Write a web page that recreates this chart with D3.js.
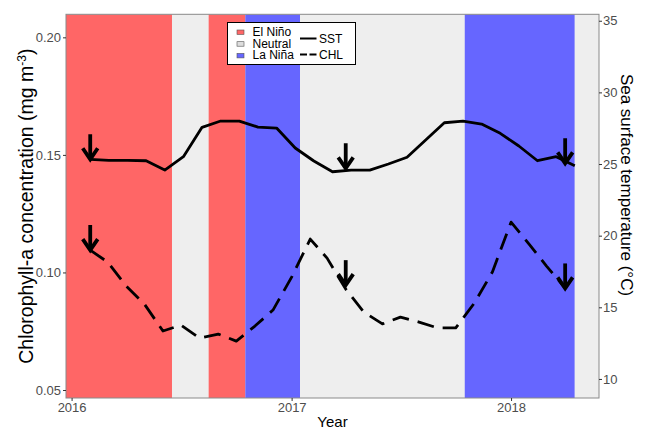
<!DOCTYPE html>
<html>
<head>
<meta charset="utf-8">
<script src="https://cdn.jsdelivr.net/npm/d3@7"></script>
<style>
  html, body { margin: 0; padding: 0; background: #fff; }
  svg { display: block; font-family: "Liberation Sans", Arial, Helvetica, sans-serif; }
</style>
</head>
<body>
<svg id="chart" width="645" height="430"></svg>
<script>
// ---------------- data ----------------
const chlDates = ["2016-02-01","2016-03-01","2016-04-01","2016-05-01","2016-06-01","2016-07-01","2016-08-01","2016-09-01","2016-10-01","2016-11-01","2016-12-01",
  "2017-01-01","2017-02-01","2017-03-01","2017-04-01","2017-05-01","2017-06-01","2017-07-01","2017-08-01","2017-09-01","2017-10-01","2017-11-01","2017-12-01",
  "2018-01-01","2018-02-01","2018-03-01","2018-04-01"];
const chlValues = [0.1095,0.1044,0.0942,0.0866,0.0751,0.0776,0.0721,0.0738,0.0708,0.0772,0.0840,
  0.0980,0.1142,0.1061,0.0929,0.0832,0.0781,0.0810,0.0789,0.0764,0.0764,0.0870,0.1002,
  0.1214,0.1117,0.1027,0.0934];

const sstDates = ["2016-02-01","2016-03-03","2016-04-03","2016-05-04","2016-06-04","2016-07-05","2016-08-05","2016-09-05","2016-10-06","2016-11-06","2016-12-07",
  "2017-01-07","2017-02-07","2017-03-10","2017-04-10","2017-05-11","2017-06-11","2017-07-12","2017-08-12","2017-09-12","2017-10-13","2017-11-13","2017-12-14",
  "2018-01-14","2018-02-14","2018-03-17","2018-04-17"];
const sstValues = [25.33,25.25,25.25,25.23,24.58,25.51,27.56,28.00,28.00,27.58,27.51,
  26.12,25.21,24.46,24.58,24.58,25.00,25.47,26.68,27.88,28.00,27.79,27.14,
  26.26,25.23,25.51,24.88];

// ENSO phase bands: boundaries between consecutive phases
const bandBreaks = ["2016-06-16","2016-08-16","2016-10-16","2017-01-15","2017-10-16","2018-04-17"];
const bandPhases = ["El Niño","Neutral","El Niño","La Niña","Neutral","La Niña","Neutral"];
const phaseNames = ["El Niño","Neutral","La Niña"];
const phaseColors = ["#FF6666","#EEEEEE","#6666FF"];
const phaseKeyColors = ["#FF6666","#DDDDDD","#6666FF"];

// arrows (tip positions)
const arrowDates = ["2016-02-01","2017-04-01","2018-04-01"];
const arrowCHL = [0.1095,0.0946,0.0932];
const arrowSST = [25.33,24.70,25.05];

const xTicks = ["2016-01-01","2017-01-01","2018-01-01"];
const xTickLabels = ["2016","2017","2018"];
const chlTicks = [0.05,0.10,0.15,0.20];
const sstTicks = [10,15,20,25,30,35];

// ---------------- layout ----------------
const parse = d3.utcParse("%Y-%m-%d");
const panel = {left: 66, right: 599, top: 14.3, bottom: 398};
const svg = d3.select("#chart");

const allDates = sstDates.concat(chlDates).map(parse);
const [d0, d1] = d3.extent(allDates);
const span = d1 - d0;
const x = d3.scaleUtc()
  .domain([new Date(+d0 - span * 0.05), new Date(+d1 + span * 0.05)])
  .range([panel.left, panel.right]);
const yL = d3.scaleLinear().domain([0.0466, 0.2098]).range([panel.bottom, panel.top]);
const yR = d3.scaleLinear().domain([8.67, 35.45]).range([panel.bottom, panel.top]);

// clip
svg.append("defs").append("clipPath").attr("id","pclip")
  .append("rect").attr("x",panel.left).attr("y",panel.top)
  .attr("width",panel.right-panel.left).attr("height",panel.bottom-panel.top);

// panel background
svg.append("rect").attr("x",panel.left).attr("y",panel.top)
  .attr("width",panel.right-panel.left).attr("height",panel.bottom-panel.top)
  .attr("fill","#EEEEEE");

// bands
const breaksX = [panel.left].concat(bandBreaks.map(d => x(parse(d)))).concat([panel.right]);
const gBands = svg.append("g").attr("clip-path","url(#pclip)");
bandPhases.forEach((p, i) => {
  gBands.append("rect")
    .attr("x", breaksX[i]).attr("y", panel.top)
    .attr("width", breaksX[i+1] - breaksX[i]).attr("height", panel.bottom - panel.top)
    .attr("fill", phaseColors[phaseNames.indexOf(p)]);
});

// lines
const gLines = svg.append("g").attr("clip-path","url(#pclip)");
const sstData = sstDates.map((d,i) => [parse(d), sstValues[i]]);
const chlData = chlDates.map((d,i) => [parse(d), chlValues[i]]);
gLines.append("path")
  .attr("d", d3.line().x(d => x(d[0])).y(d => yR(d[1]))(sstData))
  .attr("fill","none").attr("stroke","#000").attr("stroke-width",2.8)
  .attr("stroke-linejoin","round");
gLines.append("path")
  .attr("d", d3.line().x(d => x(d[0])).y(d => yL(d[1]))(chlData))
  .attr("fill","none").attr("stroke","#000").attr("stroke-width",2.8)
  .attr("stroke-dasharray","17,9").attr("stroke-linejoin","round");

// arrows
const arrowLen = 25, headW = 7.5, headL = 11;
function drawArrow(px, py) {
  gLines.append("line").attr("x1",px).attr("x2",px).attr("y1",py-arrowLen).attr("y2",py-1.5)
    .attr("stroke","#000").attr("stroke-width",3.8);
  gLines.append("path")
    .attr("d", `M${px-headW},${py-headL}L${px},${py}L${px+headW},${py-headL}`)
    .attr("fill","none").attr("stroke","#000").attr("stroke-width",3.8)
    .attr("stroke-linejoin","miter").attr("stroke-miterlimit",10);
}
arrowDates.forEach((d,i) => {
  drawArrow(x(parse(d)), yR(arrowSST[i]));
  drawArrow(x(parse(d)), yL(arrowCHL[i]));
});

// panel border
svg.append("rect").attr("x",panel.left).attr("y",panel.top)
  .attr("width",panel.right-panel.left).attr("height",panel.bottom-panel.top)
  .attr("fill","none").attr("stroke","#8a8a8a").attr("stroke-width",1);

// axes
function styleAxis(g) {
  g.select(".domain").remove();
  g.selectAll(".tick line").attr("stroke","#333").attr("stroke-width",1);
  g.selectAll(".tick text").attr("fill","#4D4D4D").style("font-size","13px")
    .style("font-family","'Liberation Sans', Arial, sans-serif");
}
const gx = svg.append("g").attr("transform",`translate(0,${panel.bottom})`)
  .call(d3.axisBottom(x).tickValues(xTicks.map(parse)).tickFormat((d,i) => xTickLabels[i]).tickSize(3).tickPadding(2));
styleAxis(gx);
const gyl = svg.append("g").attr("transform",`translate(${panel.left},0)`)
  .call(d3.axisLeft(yL).tickValues(chlTicks).tickFormat(d3.format(".2f")).tickSize(3).tickPadding(2));
styleAxis(gyl);
const gyr = svg.append("g").attr("transform",`translate(${panel.right},0)`)
  .call(d3.axisRight(yR).tickValues(sstTicks).tickFormat(d3.format("d")).tickSize(3).tickPadding(1));
styleAxis(gyr);

// axis titles
svg.append("text").attr("x",(panel.left+panel.right)/2).attr("y",427)
  .attr("text-anchor","middle").style("font-size","15px").attr("fill","#000").text("Year");

const yTitle = svg.append("text")
  .attr("transform",`translate(33,${(panel.top+panel.bottom)/2}) rotate(-90)`)
  .attr("text-anchor","middle").style("font-size","19.5px").attr("fill","#000");
yTitle.append("tspan").text("Chlorophyll-a concentration (mg m");
yTitle.append("tspan").attr("dy","-7").style("font-size","12px").text("-3");
yTitle.append("tspan").attr("dy","7").text(")");

svg.append("text")
  .attr("transform",`translate(621,185) rotate(90)`)
  .attr("text-anchor","middle").style("font-size","17px").attr("fill","#000")
  .text("Sea surface temperature (°C)");

// legend
const lg = svg.append("g");
lg.append("rect").attr("x",227.5).attr("y",22.5).attr("width",128).attr("height",42)
  .attr("fill","#fff").attr("stroke","#000").attr("stroke-width",1);
phaseNames.forEach((p,i) => {
  const yy = 32 + i*11.7;
  lg.append("rect").attr("x",237).attr("y",yy-2).attr("width",7).attr("height",4.5)
    .attr("fill",phaseKeyColors[i]).attr("stroke","#555").attr("stroke-width",0.6);
  lg.append("text").attr("x",252.5).attr("y",yy+4).style("font-size","12px").attr("fill","#000").text(p);
});
lg.append("line").attr("x1",300).attr("x2",316.5).attr("y1",38.5).attr("y2",38.5)
  .attr("stroke","#000").attr("stroke-width",2);
lg.append("text").attr("x",319).attr("y",42.5).style("font-size","12px").attr("fill","#000").text("SST");
lg.append("line").attr("x1",300).attr("x2",316.5).attr("y1",54.5).attr("y2",54.5)
  .attr("stroke","#000").attr("stroke-width",2).attr("stroke-dasharray","7,2.5");
lg.append("text").attr("x",319).attr("y",58.5).style("font-size","12px").attr("fill","#000").text("CHL");
</script>
</body>
</html>
